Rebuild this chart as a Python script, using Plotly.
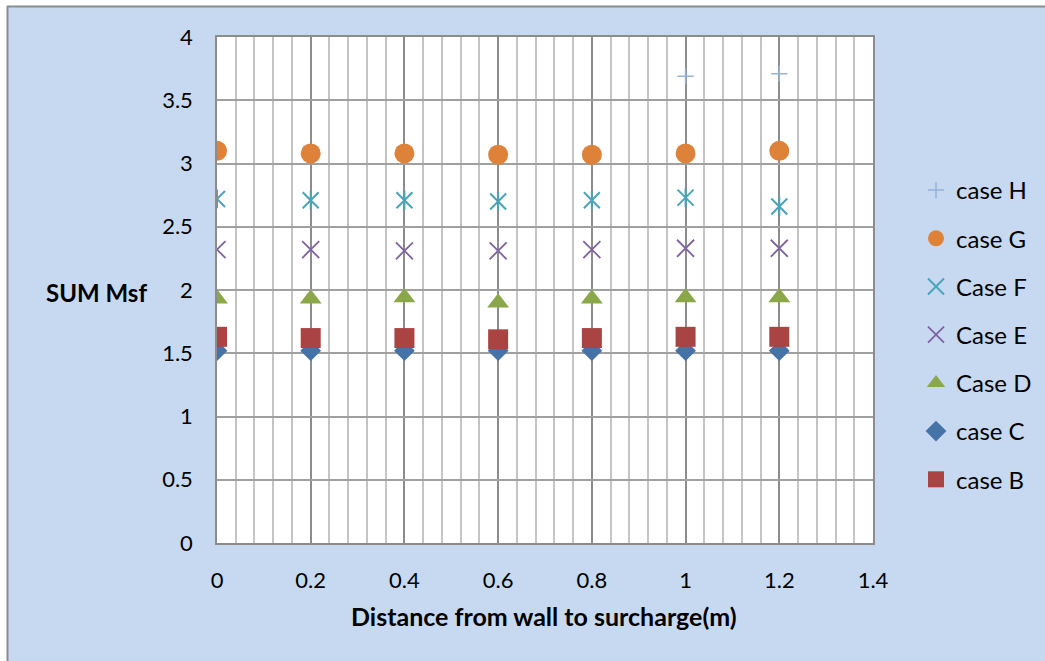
import plotly.graph_objects as go

# Distance from wall to surcharge (m)
distance = [0, 0.2, 0.4, 0.6, 0.8, 1.0, 1.2]

# Sum of Msf for each load case
case_h = [None, None, None, None, None, 3.69, 3.71]
case_g = [3.10, 3.08, 3.08, 3.07, 3.07, 3.08, 3.10]
case_f = [2.72, 2.71, 2.71, 2.70, 2.71, 2.73, 2.66]
case_e = [2.32, 2.32, 2.31, 2.31, 2.32, 2.33, 2.33]
case_d = [1.93, 1.93, 1.94, 1.90, 1.93, 1.94, 1.94]
case_c = [1.52, 1.52, 1.52, 1.52, 1.52, 1.52, 1.52]
case_b = [1.63, 1.62, 1.62, 1.61, 1.62, 1.63, 1.63]

W, H = 1045, 661
L, R, T, B = 217, 873, 37, 543   # plot area edges in pixels


def px(x):
    return (x - L) / (R - L)


def py(y):
    return (B - y) / (B - T)


FONT = "Lato, Open Sans, sans-serif"
BG = "#C6D9F0"

fig = go.Figure()


def add(name, y, symbol, color, size, line_w=0, group=None, show=True):
    open_sym = symbol.endswith("open")
    fig.add_trace(go.Scatter(
        x=distance, y=y, mode="markers", name=name,
        legendgroup=group or name, showlegend=show,
        marker=dict(symbol=symbol, size=size, color=color,
                    line=dict(color=color, width=line_w if open_sym else 0)),
    ))


add("case H", case_h, "cross-thin-open", "#95B3D7", 11.5, 1.5)
add("case G", case_g, "circle", "#DE823A", 20)
add("Case F", case_f, "x-thin-open", "#4BA3B8", 16, 2)
add("Case F", case_f, "line-ns-open", "#4BA3B8", 13.5, 2, group="Case F", show=False)
add("Case E", case_e, "x-thin-open", "#7E63A0", 17, 1.8)
add("Case D", case_d, "triangle-up", "#8AA84A", 19)
add("case C", case_c, "diamond", "#4573A8", 16)
add("case B", case_b, "square", "#AA4443", 20)

grid_major = "#8C8C8C"
fig.update_xaxes(
    range=[0, 1.4], dtick=0.2, tick0=0, showgrid=True, gridcolor=grid_major, gridwidth=1.5,
    minor=dict(dtick=0.04, showgrid=True, gridcolor="#C4C4C4", gridwidth=1.5),
    showline=True, linecolor=grid_major, linewidth=1.5, mirror=True,
    ticks="", ticklabelstandoff=17, zeroline=False,
    tickfont=dict(family=FONT, size=22, color="#000"),
)
fig.update_yaxes(
    range=[0, 4], dtick=0.5, showgrid=True, gridcolor="#A0A0A0", gridwidth=1.5,
    showline=True, linecolor=grid_major, linewidth=1.5, mirror=True,
    ticks="", ticklabelstandoff=18, zeroline=False,
    tickfont=dict(family=FONT, size=22, color="#000"),
)

shapes = [
    # white strips at the left and top edge with the grey chart-area border
    dict(type="rect", xref="paper", yref="paper", x0=px(-5), x1=px(7), y0=py(700), y1=py(-5),
         fillcolor="white", line=dict(width=0), layer="above"),
    dict(type="rect", xref="paper", yref="paper", x0=px(-5), x1=px(1050), y0=py(6), y1=py(-5),
         fillcolor="white", line=dict(width=0), layer="above"),
    dict(type="line", xref="paper", yref="paper", x0=px(7.5), x1=px(7.5), y0=py(700), y1=py(6),
         line=dict(color="#8C8C8C", width=2), layer="above"),
    dict(type="line", xref="paper", yref="paper", x0=px(7), x1=px(1050), y0=py(6.5), y1=py(6.5),
         line=dict(color="#8C8C8C", width=2), layer="above"),
]

annotations = [
    dict(text="<b>SUM Msf</b>", x=px(96), y=py(292), xref="paper", yref="paper",
         xanchor="center", yanchor="middle",
         showarrow=False, font=dict(family=FONT, size=24, color="#000")),
    dict(text="<b>Distance from wall to surcharge(m)</b>", x=px(544), y=py(616),
         xref="paper", yref="paper", xanchor="center", yanchor="middle", showarrow=False,
         font=dict(family=FONT, size=25, color="#000")),
]

fig.update_layout(
    width=W, height=H,
    margin=dict(l=L, r=W - R, t=T, b=H - B, autoexpand=False),
    paper_bgcolor=BG, plot_bgcolor="white",
    shapes=shapes, annotations=annotations,
    legend=dict(x=px(916), y=py(168), xanchor="left", yanchor="top",
                traceorder="grouped", tracegroupgap=14, bgcolor="rgba(0,0,0,0)",
                font=dict(family=FONT, size=24, color="#000")),
)

fig.write_html("out.html")
